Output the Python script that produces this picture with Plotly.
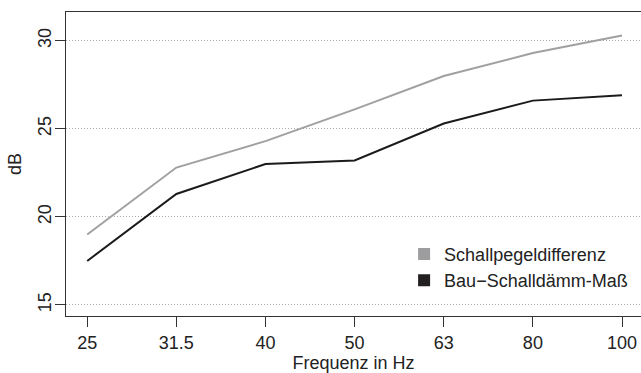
import plotly.graph_objects as go

frequencies = ["25", "31.5", "40", "50", "63", "80", "100"]
schallpegeldifferenz = [19.0, 22.8, 24.3, 26.1, 28.0, 29.3, 30.3]
bau_schalldaemm_mass = [17.5, 21.3, 23.0, 23.2, 25.3, 26.6, 26.9]
y_ticks = [15, 20, 25, 30]
series_names = ["Schallpegeldifferenz", "Bau\u2212Schalldämm-Maß"]

GRAY = "#a0a0a0"
BLACK = "#1c1a1b"
FONT = "Liberation Sans, Arial, sans-serif"

fig = go.Figure()
fig.add_trace(go.Scatter(x=frequencies, y=schallpegeldifferenz, mode="lines",
                         line=dict(color=GRAY, width=2), showlegend=False))
fig.add_trace(go.Scatter(x=frequencies, y=bau_schalldaemm_mass, mode="lines",
                         line=dict(color=BLACK, width=2), showlegend=False))
# legend entries (square keys)
fig.add_trace(go.Scatter(x=[None], y=[None], mode="markers", name=series_names[0],
                         marker=dict(symbol="square", size=12, color="#9d9d9f")))
fig.add_trace(go.Scatter(x=[None], y=[None], mode="markers", name=series_names[1],
                         marker=dict(symbol="square", size=12, color="#231f20")))

fig.update_layout(
    width=641, height=373,
    margin=dict(l=66, r=0, t=12, b=57, autoexpand=False),
    paper_bgcolor="white", plot_bgcolor="white",
    font=dict(family=FONT, size=18, color="#222222"),
    legend=dict(x=0.588, xanchor="left", y=0.1605, yanchor="middle",
                bgcolor="rgba(0,0,0,0)", font=dict(size=18), itemwidth=30),
    xaxis=dict(type="category", range=[-0.238, 6.213],
               showline=True, mirror=True, linecolor="#333333", linewidth=1.3,
               ticks="outside", ticklen=10, tickcolor="#333333", tickwidth=1.3,
               showgrid=False, zeroline=False, automargin=False,
               title=dict(text="Frequenz in Hz", standoff=8, font=dict(size=18))),
    yaxis=dict(range=[14.375, 31.63], tickvals=y_ticks,
               showline=True, mirror=True, linecolor="#333333", linewidth=1.3,
               ticks="outside", ticklen=10, tickcolor="#333333", tickwidth=1.3,
               tickangle=-90, ticklabelstandoff=-3,
               showgrid=True, gridcolor="#aaaaaa", griddash="1px,2px",
               gridwidth=1, zeroline=False, automargin=False,
               title=dict(text="dB", standoff=8, font=dict(size=18))),
)

fig.write_html("out.html", config={"displayModeBar": False},
               post_script="document.body.style.margin='0';")
